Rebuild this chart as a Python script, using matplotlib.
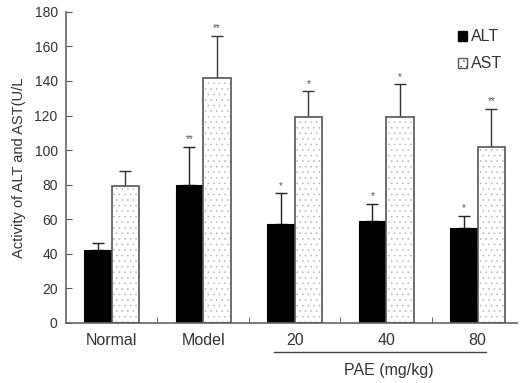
import numpy as np
import matplotlib.pyplot as plt
from matplotlib.patches import Patch

plt.rcParams['font.family'] = ['Liberation Sans', 'DejaVu Sans']

groups = ['Normal', 'Model', '20', '40', '80']
alt = [42, 80, 57, 59, 55]
alt_err = [4, 22, 18, 10, 7]
ast = [79, 142, 119, 119, 102]
ast_err = [9, 24, 15, 19, 22]
alt_sig = ['', '**', '*', '*', '*']
ast_sig = ['', '**', '*', '*', '**']

txt = '#333333'
x = np.arange(len(groups))
w = 0.3

fig = plt.figure(figsize=(5.28, 3.83), dpi=100)
ax = fig.add_axes([0.125, 0.157, 0.854, 0.812])

# ALT solid bars
ax.bar(x - w / 2, alt, w, color='black', edgecolor='black', linewidth=0.8, zorder=2)
ax.errorbar(x - w / 2, alt, yerr=[np.zeros(5), alt_err], fmt='none',
            ecolor='#222222', elinewidth=1, capsize=4, capthick=1, zorder=1)

# AST dotted bars: hatch first, then dark outline
plt.rcParams['hatch.linewidth'] = 0.4
ax.bar(x + w / 2, ast, w, color='white', edgecolor='#b5b5b5', hatch='...',
       linewidth=0, zorder=2)
ax.bar(x + w / 2, ast, w, fill=False, edgecolor='#555555', linewidth=1.2, zorder=3)
ax.errorbar(x + w / 2, ast, yerr=[np.zeros(5), ast_err], fmt='none',
            ecolor='#333333', elinewidth=1, capsize=4, capthick=1, zorder=1)

for i in range(len(groups)):
    if alt_sig[i]:
        ax.text(x[i] - w / 2, alt[i] + alt_err[i] + 1.5, alt_sig[i], ha='center',
                va='bottom', fontsize=7, color='#555555')
    if ast_sig[i]:
        ax.text(x[i] + w / 2, ast[i] + ast_err[i] + 1.5, ast_sig[i], ha='center',
                va='bottom', fontsize=7, color='#555555')

ax.set_xlim(-0.5, 4.43)
ax.set_ylim(0, 180)
ax.set_yticks(np.arange(0, 181, 20))
ax.set_xticks(x)
ax.set_xticklabels(groups)
ax.set_xticks(np.arange(0.5, 4.5, 1), minor=True)
ax.tick_params(axis='x', which='major', length=0, pad=7, labelsize=11.5, labelcolor=txt)
ax.tick_params(axis='x', which='minor', direction='in', length=4, color='#555555')
ax.tick_params(axis='y', direction='in', length=4, color='#555555', labelsize=10,
               labelcolor=txt, pad=6)
for s in ['top', 'right']:
    ax.spines[s].set_visible(False)
for s in ['left', 'bottom']:
    ax.spines[s].set_color('#666666')
    ax.spines[s].set_linewidth(1.2)

ax.set_ylabel('Activity of ALT and AST(U/L', fontsize=10.5, color=txt, labelpad=6)

# PAE group line and label
ax.plot([1.77, 4.09], [-0.093, -0.093], color='#444444', lw=1,
        transform=ax.get_xaxis_transform(), clip_on=False)
ax.text(3.03, -0.152, 'PAE (mg/kg)', transform=ax.get_xaxis_transform(),
        ha='center', va='center', fontsize=11.5, color=txt)

handles = [Patch(facecolor='black', edgecolor='black'),
           Patch(facecolor='white', edgecolor='#555555', hatch='...')]
ax.legend(handles, ['ALT', 'AST'], loc='upper right', bbox_to_anchor=(1.0, 0.99),
          frameon=False, handlelength=0.6, handleheight=0.6, handletextpad=0.25,
          labelspacing=0.75, fontsize=11.5, labelcolor=txt)

fig.savefig('out.png', dpi=100)
